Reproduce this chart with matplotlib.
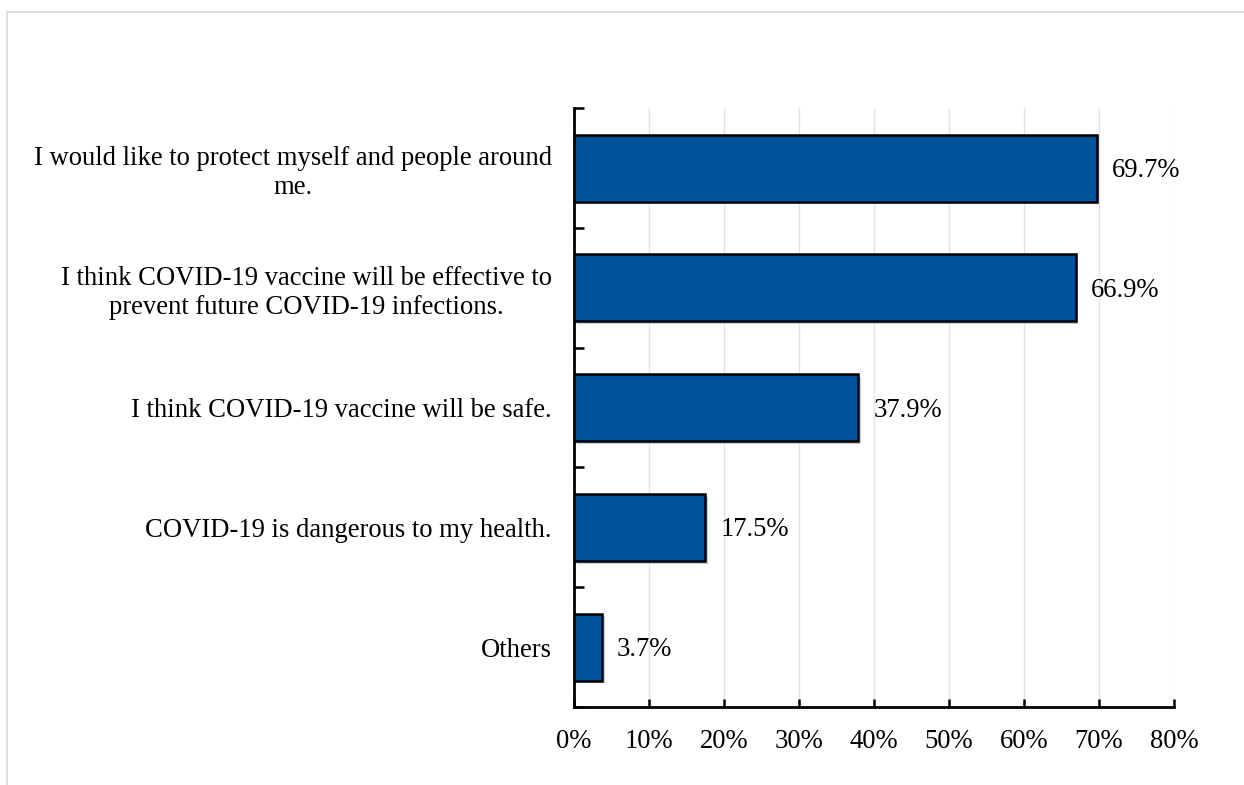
import matplotlib.pyplot as plt
import matplotlib.patheffects as pe
from matplotlib.patches import Rectangle
import numpy as np

reasons = [
    "I would like to protect myself and people around\nme.",
    "I think COVID-19 vaccine will be effective to\nprevent future COVID-19 infections.",
    "I think COVID-19 vaccine will be safe.",
    "COVID-19 is dangerous to my health.",
    "Others",
]
percent = [69.7, 66.9, 37.9, 17.5, 3.7]
xticks = [0, 10, 20, 30, 40, 50, 60, 70, 80]

plt.rcParams['font.family'] = ['Liberation Serif', 'DejaVu Serif']
fs = 19.2

fig = plt.figure(figsize=(12.44, 7.85), dpi=100)
ax = fig.add_axes([0.4614, 0.0995, 0.4823, 0.7625])

# light frame round the chart area
fig.patches.append(Rectangle((0.0056, -0.1), 1.2, 1.0847, transform=fig.transFigure,
                             fill=False, edgecolor='#d9d9d9', linewidth=1.2))

y = np.arange(len(reasons))
bars = ax.barh(y, percent, height=0.56, color='#00529b', edgecolor='black',
               linewidth=1.8, zorder=3)
for b in bars:
    b.set_path_effects([pe.SimplePatchShadow(offset=(2, -2), shadow_rgbFace='#999999', alpha=0.5),
                        pe.Normal()])

for yi, v in zip(y, percent):
    ax.text(v + 2.0, yi + 0.02, f"{v}%", va='center', ha='left', fontsize=fs)

ax.set_ylim(4.5, -0.5)
ax.set_xlim(0, 80)
ax.set_yticks(y)
ax.set_yticklabels(reasons, fontsize=fs, multialignment='center', linespacing=1.2)
ax.set_yticks(np.arange(-0.5, 5, 1), minor=True)
ax.tick_params(axis='y', which='major', length=0, pad=16)
ax.tick_params(axis='y', which='minor', direction='in', length=7, width=1.8)

ax.set_xticks(xticks)
ax.set_xticklabels([f"{t}%" for t in xticks], fontsize=fs)
ax.tick_params(axis='x', direction='in', length=6, width=1.8, pad=16)

ax.grid(axis='x', color='#e3e3e3', linewidth=1, zorder=0)
ax.set_axisbelow(True)
for s in ['top', 'right']:
    ax.spines[s].set_visible(False)
for s in ['left', 'bottom']:
    ax.spines[s].set_linewidth(2)

fig.savefig('out.png', dpi=100)
